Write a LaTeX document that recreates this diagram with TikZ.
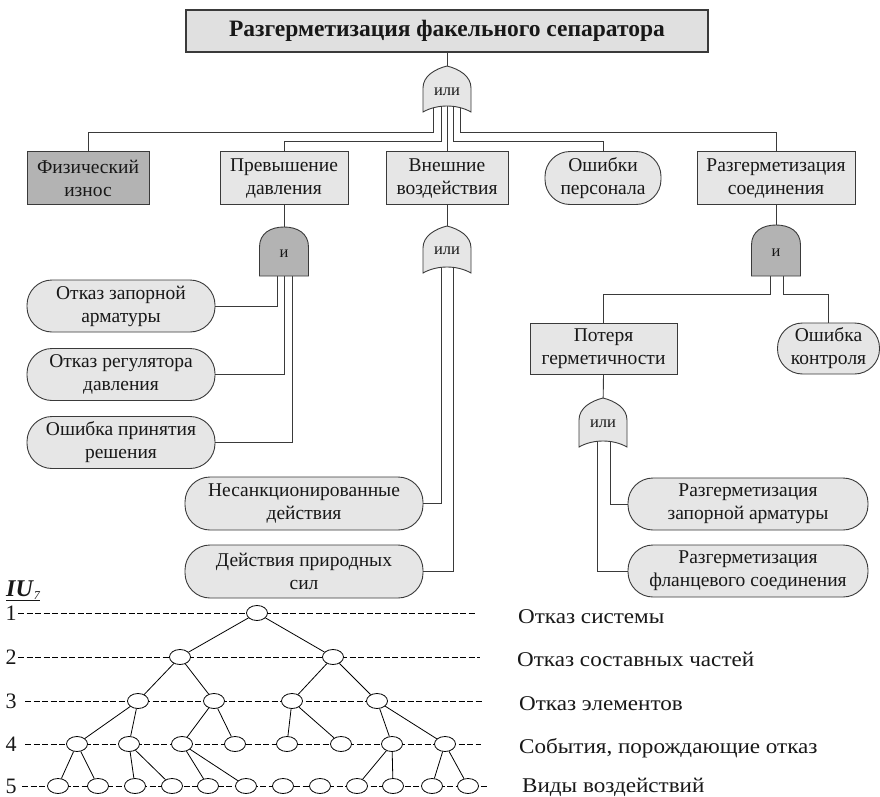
\documentclass[tikz,border=0pt]{standalone}
\usepackage{fontspec}
\setmainfont{Liberation Serif}
\usetikzlibrary{shapes.geometric}
\definecolor{boxfill}{HTML}{E6E6E6}
\definecolor{titlefill}{HTML}{E0E0E0}
\definecolor{darkfill}{HTML}{B3B3B3}
\definecolor{edgec}{HTML}{3A3A3A}
\definecolor{txt}{HTML}{181818}
\tikzset{
 base/.style={draw=edgec, line width=0.9pt, align=center, font=\fontsize{19.5}{23}\selectfont, inner sep=0pt, text=txt},
 evbox/.style={base, rectangle, fill=boxfill},
 darkbox/.style={base, rectangle, fill=darkfill},
 leaf/.style={base, rectangle, rounded corners=25pt, fill=boxfill},
 titlebox/.style={base, rectangle, fill=titlefill, line width=1.1pt, font=\fontsize{23.5}{26}\selectfont\bfseries},
 conn/.style={draw=edgec, line width=0.9pt},
 orfill/.style={draw=edgec, line width=0.9pt, fill=boxfill},
 andfill/.style={draw=edgec, line width=0.9pt, fill=darkfill},
 gatelbl/.style={font=\fontsize{16.5}{17}\selectfont, inner sep=0pt, text=txt},
 tc/.style={ellipse, draw=black, fill=white, line width=0.8pt, minimum width=21pt, minimum height=15pt, inner sep=0pt},
 tedge/.style={draw=black, line width=0.8pt},
 lvl/.style={draw=black, line width=0.9pt, dash pattern=on 6pt off 2.5pt},
 lvlnum/.style={font=\fontsize{22}{22}\selectfont, inner sep=0pt, text=txt},
 lvltxt/.style={font=\fontsize{21}{21}\selectfont\addfontfeatures{FakeStretch=1.1}, anchor=base west, inner sep=0pt, text=txt},
}
\newcommand{\orgatepath}[3]{%
 \path[orfill] ({#1-24},{#3}) -- ({#1-24},{#2+22}) .. controls ({#1-24},{#2+10}) and ({#1-12},{#2+3}) .. ({#1},{#2})
 .. controls ({#1+12},{#2+3}) and ({#1+24},{#2+10}) .. ({#1+24},{#2+22}) -- ({#1+24},{#3})
 .. controls ({#1+10},{#3-8}) and ({#1-10},{#3-8}) .. cycle;}
\newcommand{\andgatepath}[3]{%
 \path[andfill] ({#1-24.5},{#3}) -- ({#1-24.5},{#2+20}) .. controls ({#1-24.5},{#2+6}) and ({#1-13},{#2}) .. ({#1},{#2})
 .. controls ({#1+13},{#2}) and ({#1+24.5},{#2+6}) .. ({#1+24.5},{#2+20}) -- ({#1+24.5},{#3}) -- cycle;}
\begin{document}
\begin{tikzpicture}[x=1pt,y=-1pt]
\useasboundingbox (0,0) rectangle (880,797);
\fill[white] (0,0) rectangle (880,797);
% ---- events
\node[titlebox, minimum width=522pt, minimum height=42pt] (title) at (447,31) {Разгерметизация факельного сепаратора};
\node[darkbox, minimum width=122pt, minimum height=53pt] (phys) at (88,178) {Физический\\износ};
\node[evbox, minimum width=128pt, minimum height=53pt] (prev) at (284,178) {Превышение\\давления};
\node[evbox, minimum width=122pt, minimum height=53pt] (vnesh) at (447,178) {Внешние\\воздействия};
\node[leaf, minimum width=116pt, minimum height=53pt] (oshp) at (603,178) {Ошибки\\персонала};
\node[evbox, minimum width=158pt, minimum height=53pt] (razs) at (776,178) {Разгерметизация\\соединения};
\node[leaf, minimum width=188pt, minimum height=52pt] (l1) at (121,306) {Отказ запорной\\арматуры};
\node[leaf, minimum width=188pt, minimum height=52pt] (l2) at (121,374.5) {Отказ регулятора\\давления};
\node[leaf, minimum width=188pt, minimum height=52pt] (l3) at (121,442.5) {Ошибка принятия\\решения};
\node[leaf, minimum width=238pt, minimum height=53pt] (nesank) at (304,503.5) {Несанкционированные\\действия};
\node[leaf, minimum width=238pt, minimum height=53pt] (prir) at (304,571.5) {Действия природных\\сил};
\node[evbox, minimum width=147pt, minimum height=51pt] (poter) at (603.5,348.5) {Потеря\\герметичности};
\node[leaf, minimum width=102pt, minimum height=51pt] (oshk) at (828.5,348.5) {Ошибка\\контроля};
\node[leaf, minimum width=240pt, minimum height=52pt] (rzap) at (748,504) {Разгерметизация\\запорной арматуры};
\node[leaf, minimum width=240pt, minimum height=52pt] (rfl) at (748,571) {Разгерметизация\\фланцевого соединения};
% ---- gate ports
\coordinate (g0in) at (447,70);
\coordinate (g0a) at (433,100);
\coordinate (g0b) at (441,100);
\coordinate (g0c) at (447,100);
\coordinate (g0d) at (453,100);
\coordinate (g0e) at (460,100);
\coordinate (g1in) at (284,240);
\coordinate (g1a) at (277,262);
\coordinate (g1b) at (284,262);
\coordinate (g1c) at (292,262);
\coordinate (g2in) at (447,240);
\coordinate (g2a) at (441,262);
\coordinate (g2b) at (453,262);
\coordinate (g3in) at (776,240);
\coordinate (g3a) at (770,262);
\coordinate (g3b) at (783,262);
\coordinate (g4in) at (603,410);
\coordinate (g4a) at (597,436);
\coordinate (g4b) at (610,436);
% ---- connectors
\draw[conn] (title.south) -- (g0in);
\draw[conn] (g0a) -- ++(0,32) -| (phys.north);
\draw[conn] (g0b) -- ++(0,41) -| (prev.north);
\draw[conn] (g0c) -- (vnesh.north);
\draw[conn] (g0d) -- ++(0,41) -| (oshp.north);
\draw[conn] (g0e) -- ++(0,32) -| (razs.north);
\draw[conn] (prev.south) -- (g1in);
\draw[conn] (g1a) |- (l1.east);
\draw[conn] (g1b) |- (l2.east);
\draw[conn] (g1c) |- (l3.east);
\draw[conn] (vnesh.south) -- (g2in);
\draw[conn] (g2a) |- (nesank.east);
\draw[conn] (g2b) |- (prir.east);
\draw[conn] (razs.south) -- (g3in);
\draw[conn] (g3a) -- ++(0,32) -| (poter.north);
\draw[conn] (g3b) -- ++(0,32) -| (oshk.north);
\draw[conn] (poter.south) -- (g4in);
\draw[conn] (g4a) |- (rfl.west);
\draw[conn] (g4b) |- (rzap.west);
% ---- gates
\orgatepath{447}{66}{112}
\andgatepath{284}{227}{276}
\orgatepath{447}{226}{273}
\andgatepath{776}{225}{276}
\orgatepath{603}{398}{447}
\node[gatelbl] (g0) at (447,92) {или};
\node[gatelbl] (g1) at (284,254) {и};
\node[gatelbl] (g2) at (447,251) {или};
\node[gatelbl] (g3) at (776,253) {и};
\node[gatelbl] (g4) at (603,424) {или};
% ---- lower hierarchy
\node[anchor=base west, inner sep=0pt, text=txt] (iu) at (6,596) {\fontsize{24}{24}\selectfont\underline{\textbf{\textit{IU}}\raisebox{-3pt}{\fontsize{12}{12}\selectfont\textit{7}}}};
\coordinate (d1s) at (18,613); \coordinate (d1e) at (475,613);
\coordinate (d2s) at (18,657); \coordinate (d2e) at (480,657);
\coordinate (d3s) at (25,701); \coordinate (d3e) at (483,701);
\coordinate (d4s) at (25,744); \coordinate (d4e) at (481,744);
\coordinate (d5s) at (22,786); \coordinate (d5e) at (489,786);
\draw[lvl] (d1s) -- (d1e);
\draw[lvl] (d2s) -- (d2e);
\draw[lvl] (d3s) -- (d3e);
\draw[lvl] (d4s) -- (d4e);
\draw[lvl] (d5s) -- (d5e);
\node[lvlnum] (k1) at (11,613) {1};
\node[lvlnum] (k2) at (11,657) {2};
\node[lvlnum] (k3) at (11,701) {3};
\node[lvlnum] (k4) at (11,744) {4};
\node[lvlnum] (k5) at (11,786) {5};
\node[tc] (n1) at (257,613) {};
\node[tc] (n2a) at (180,657) {};
\node[tc] (n2b) at (333,657) {};
\node[tc] (n3a) at (138,701) {};
\node[tc] (n3b) at (214,701) {};
\node[tc] (n3c) at (292,701) {};
\node[tc] (n3d) at (377,701) {};
\node[tc] (n4a) at (77,744) {};
\node[tc] (n4b) at (129,744) {};
\node[tc] (n4c) at (182,744) {};
\node[tc] (n4d) at (235,744) {};
\node[tc] (n4e) at (287,744) {};
\node[tc] (n4f) at (341,744) {};
\node[tc] (n4g) at (392,744) {};
\node[tc] (n4h) at (445,744) {};
\node[tc] (n5a) at (58,786) {};
\node[tc] (n5b) at (98,786) {};
\node[tc] (n5c) at (135,786) {};
\node[tc] (n5d) at (172,786) {};
\node[tc] (n5e) at (208,786) {};
\node[tc] (n5f) at (246,786) {};
\node[tc] (n5g) at (283,786) {};
\node[tc] (n5h) at (320,786) {};
\node[tc] (n5i) at (357,786) {};
\node[tc] (n5j) at (393,786) {};
\node[tc] (n5k) at (432,786) {};
\node[tc] (n5l) at (468,786) {};
\draw[tedge] (n1) -- (n2a); \draw[tedge] (n1) -- (n2b);
\draw[tedge] (n2a) -- (n3a); \draw[tedge] (n2a) -- (n3b);
\draw[tedge] (n2b) -- (n3c); \draw[tedge] (n2b) -- (n3d);
\draw[tedge] (n3a) -- (n4a); \draw[tedge] (n3a) -- (n4b);
\draw[tedge] (n3b) -- (n4c); \draw[tedge] (n3b) -- (n4d);
\draw[tedge] (n3c) -- (n4e); \draw[tedge] (n3c) -- (n4f);
\draw[tedge] (n3d) -- (n4g); \draw[tedge] (n3d) -- (n4h);
\draw[tedge] (n4a) -- (n5a); \draw[tedge] (n4a) -- (n5b);
\draw[tedge] (n4b) -- (n5c); \draw[tedge] (n4b) -- (n5d);
\draw[tedge] (n4c) -- (n5e); \draw[tedge] (n4c) -- (n5f);
\draw[tedge] (n4g) -- (n5i); \draw[tedge] (n4g) -- (n5j);
\draw[tedge] (n4h) -- (n5k); \draw[tedge] (n4h) -- (n5l);
\node[lvltxt] (t1) at (518,623) {Отказ системы};
\node[lvltxt] (t2) at (517,666) {Отказ составных частей};
\node[lvltxt] (t3) at (519,710) {Отказ элементов};
\node[lvltxt] (t4) at (519,753) {События, порождающие отказ};
\node[lvltxt] (t5) at (522,792) {Виды воздействий};
\end{tikzpicture}
\end{document}
